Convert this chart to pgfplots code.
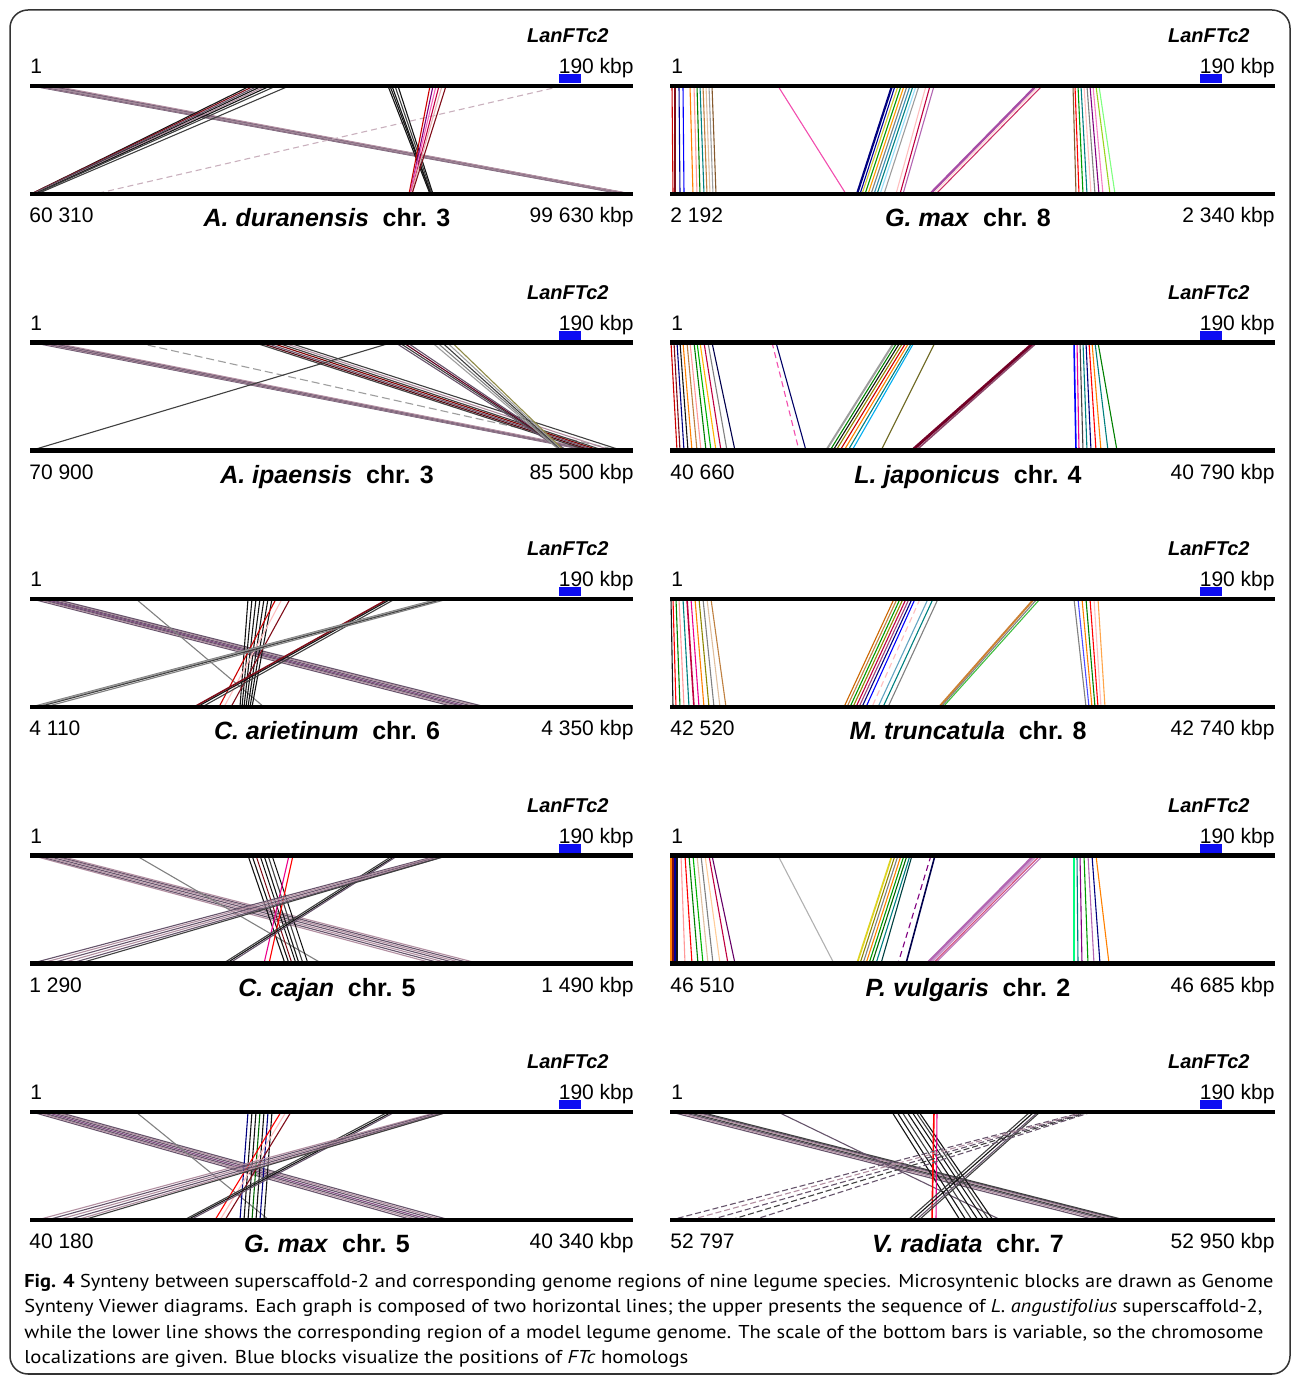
\documentclass[border=0pt]{standalone}
\usepackage{pgfplots}
\pgfplotsset{compat=1.18}
\usepackage{fontspec}
\usepackage{graphicx}
\setmainfont{Liberation Sans}
\newfontfamily\capfont{PT Sans}

\definecolor{gp}{rgb}{0.40,0.33,0.42}
\definecolor{pg}{rgb}{0.70,0.56,0.63}
\definecolor{lg}{rgb}{0.62,0.62,0.62}
\definecolor{dg}{rgb}{0.25,0.25,0.25}
\definecolor{blk}{rgb}{0.08,0.08,0.08}
\definecolor{dr}{rgb}{0.50,0.05,0.10}
\definecolor{fblue}{rgb}{0.05,0.05,0.95}

\def\yt{86}\def\yb{194}
\newcommand\setrow[1]{\pgfmathsetmacro\yt{86+256.5*#1}\pgfmathsetmacro\yb{194+256.5*#1}}
\newcommand\cn[3]{\edef\next{\noexpand\addplot[#1] coordinates {(#2,\yt) (#3,\yb)};}\next}
\newcommand\numfont{\fontsize{10.5}{12}\selectfont}
\newcommand\spfont{\fontsize{12.5}{15}\selectfont\bfseries}
\newcommand\ptext[5]{%
  \pgfmathsetmacro\yo{256.5*#2}%
  \node[anchor=base east, inner sep=0, font=\fontsize{10}{12}\selectfont\bfseries\itshape] at ({#1+609},{\yo+43}) {LanFTc2};
  \node[anchor=base west, inner sep=0, font=\numfont] at ({#1+30},{\yo+74}) {1};
  \node[anchor=base east, inner sep=0, font=\numfont] at ({#1+634},{\yo+74}) {190 kbp};
  \node[anchor=base west, inner sep=0, font=\numfont] at ({#1+29},{\yo+223}) {#3};
  \node[anchor=base east, inner sep=0, font=\numfont] at ({#1+634},{\yo+223}) {#5};
  \node[anchor=base, inner sep=0, font=\spfont] at ({#1+327},{\yo+227}) {#4};
}

\begin{document}
\begin{tikzpicture}
\begin{axis}[scale only axis, width=646.5pt, height=688.5pt,
  xmin=0, xmax=1293, ymin=0, ymax=1377, y dir=reverse, hide axis, clip=false,
  every axis plot/.append style={line width=0.55pt, line cap=butt, mark=none}]
\coordinate (TL) at (axis cs:0,0);
% ---------------- Row 0 left: A. duranensis
\setrow{0}
\cn{gp}{32}{622}\cn{pg}{35}{624}\cn{gp}{38}{626}\cn{pg}{41}{627}\cn{gp!70!white}{44}{629}\cn{pg}{47}{630}\cn{gp}{50}{631}\cn{pg}{54}{632}
\cn{blk}{250}{31}\cn{dr}{254}{31}\cn{gp}{258}{32}\cn{blk}{262}{33}\cn{pg}{266}{33}\cn{blk}{270}{34}\cn{dg}{276}{35}\cn{dg}{289}{37}
\cn{pg!70!white, dash pattern=on 3pt off 2pt}{562}{95}
\cn{blk}{388}{430}\cn{blk}{390}{431}\cn{blk}{392}{431}\cn{dg}{395}{432}\cn{blk}{398}{433}
\cn{red!80!black}{430}{409}\cn{violet}{433}{410}\cn{magenta!60!white}{436}{410}\cn{purple}{439}{411}\cn{pink!80!gray}{442}{411}\cn{dr}{446}{412}
% ---------------- Row 0 right: G. max chr 8
\cn{red!80!black}{672}{673}\cn{dr}{675}{675}\cn{blue!60!black}{679}{680}\cn{blue}{683}{684}\cn{orange}{690}{693}\cn{red!40!white}{694}{697}\cn{green!50!black}{697}{700}\cn{teal}{700}{704}\cn{brown}{703}{707}\cn{brown!50!white}{706}{710}\cn{lg}{709}{713}\cn{brown!70!black}{712}{716}
\cn{magenta!70!white}{778}{846}
\cn{blue!50!black, line width=1.1pt}{892}{857}\cn{blue!60!black}{895}{860}\cn{yellow!80!black}{898}{862}\cn{green!60!black}{901}{865}\cn{orange!80!yellow}{904}{868}\cn{gray}{907}{871}\cn{cyan!70!black}{910}{874}\cn{teal}{913}{877}\cn{cyan!40!white}{916}{880}\cn{lg}{919}{884}\cn{pink}{926}{896}\cn{purple}{930}{900}\cn{violet!60!white}{934}{903}
\cn{violet!70!white, line width=1.2pt}{1036}{930}\cn{pink!70!white}{1039}{933}\cn{purple!80!white}{1042}{936}
\cn{brown!70!black}{1073}{1076}\cn{red}{1075}{1079}\cn{green!60!black}{1078}{1083}\cn{teal}{1081}{1087}\cn{pink}{1084}{1091}\cn{gray}{1087}{1095}\cn{violet}{1090}{1099}\cn{magenta!50!white}{1093}{1103}\cn{yellow!60!green}{1096}{1110}\cn{green!50!white}{1099}{1115}
% ---------------- Row 1 left: A. ipaensis
\setrow{1}
\cn{gp}{32}{588}\cn{pg}{36}{590}\cn{gp}{40}{592}\cn{pg}{44}{594}\cn{gp}{48}{596}\cn{pg}{52}{598}
\cn{lg, dash pattern=on 4pt off 2pt}{136}{620}
\cn{dg}{254}{588}\cn{dr!70!black}{259}{592}\cn{gp}{264}{596}\cn{red!50!black}{270}{600}\cn{dg}{276}{604}\cn{pg}{282}{612}\cn{dg}{288}{622}
\cn{dg}{392}{31}
\cn{gp}{395}{563}\cn{dg}{399}{565}\cn{purple!50!black}{403}{566}\cn{gp}{407}{567}
\cn{lg}{432}{560}\cn{gray}{437}{561}\cn{dg}{442}{562}\cn{lg}{447}{563}\cn{olive!50!gray}{452}{564}
% ---------------- Row 1 right: L. japonicus
\cn{red!80!black}{671}{677}\cn{dr}{674}{680}\cn{blue!50!black}{677}{684}\cn{blk}{680}{688}\cn{orange}{683}{692}\cn{brown}{687}{697}\cn{red!40!white}{690}{701}\cn{green!50!black}{694}{706}\cn{green!70!black}{697}{711}\cn{orange!60!yellow}{700}{716}\cn{purple}{704}{721}\cn{gray}{708}{727}\cn{blue!30!black}{712}{735}
\cn{magenta!70!white, dash pattern=on 3pt off 2pt}{772}{799}\cn{blue!40!black}{776}{806}
\cn{lg, line width=1pt}{894}{826}\cn{green!50!black}{897}{830}\cn{blk}{900}{833}\cn{olive}{903}{836}\cn{red!80!black}{906}{840}\cn{orange}{909}{844}\cn{teal}{912}{848}\cn{cyan}{914}{852}
\cn{olive!70!black}{935}{881}
\cn{purple!60!black, line width=1.5pt}{1034}{912}\cn{magenta!50!black, line width=0.8pt}{1037}{916}
\cn{blue, line width=0.8pt}{1074}{1076}\cn{magenta}{1077}{1079}\cn{dg}{1080}{1083}\cn{teal}{1083}{1087}\cn{blue!50!black}{1086}{1091}\cn{red}{1089}{1096}\cn{orange}{1092}{1101}\cn{teal}{1095}{1108}\cn{green!50!black}{1098}{1117}
% ---------------- Row 2 left: C. arietinum
\setrow{2}
\cn{gp}{32}{455}\cn{pg}{36}{460}\cn{gp}{40}{465}\cn{violet!40!gray}{44}{470}\cn{gp}{48}{476}\cn{pg}{52}{481}\cn{gp}{55}{486}
\cn{gray}{136}{264}
\cn{blk}{248}{240}\cn{blk}{252}{242}\cn{blk}{256}{244}\cn{blk}{260}{246}\cn{blk}{264}{248}\cn{blk}{268}{250}\cn{blk}{272}{252}
\cn{red!80!black}{276}{219}\cn{pink}{282}{224}\cn{dr}{290}{231}
\cn{dr, line width=0.8pt}{388}{194}\cn{blk}{391}{197}\cn{dg}{395}{202}
\cn{gray}{438}{31}\cn{lg}{441}{34}\cn{dg}{444}{38}\cn{gray}{448}{45}
% ---------------- Row 2 right: M. truncatula
\cn{blk}{671}{673}\cn{red}{673}{676}\cn{green!50!black}{676}{680}\cn{red!40!white}{679}{684}\cn{teal}{683}{689}\cn{purple, line width=0.8pt}{687}{694}\cn{magenta}{691}{699}\cn{orange}{695}{704}\cn{olive}{699}{709}\cn{gray}{703}{714}\cn{brown!50!white}{707}{720}\cn{brown}{711}{726}
\cn{orange!80!black}{894}{844}\cn{brown}{897}{847}\cn{green!60!black}{900}{850}\cn{olive}{903}{853}\cn{purple}{906}{856}\cn{magenta!60!black}{909}{859}\cn{blue!50!black}{912}{862}\cn{blue}{915}{866}\cn{pink, dash pattern=on 3pt off 2pt}{920}{872}\cn{cyan!50!gray}{928}{878}\cn{teal}{933}{883}\cn{gray}{938}{888}
\cn{orange!60!gray, line width=1pt}{1034}{939}\cn{gray}{1037}{941}\cn{green!50!gray}{1040}{943}
\cn{gray}{1074}{1086}\cn{blue!70!white}{1078}{1089}\cn{orange}{1082}{1092}\cn{green!50!black}{1086}{1095}\cn{red}{1090}{1098}\cn{pink}{1094}{1101}\cn{orange!70!white}{1098}{1105}
% ---------------- Row 3 left: C. cajan
\setrow{3}
\cn{pg}{32}{434}\cn{gp}{36}{442}\cn{pg}{40}{450}\cn{gp}{45}{458}\cn{pg}{50}{465}\cn{gp}{54}{472}\cn{pg}{58}{479}
\cn{gray}{136}{322}
\cn{blk}{248}{285}\cn{blk}{252}{289}\cn{dr}{256}{292}\cn{blk}{260}{296}\cn{blk}{264}{299}\cn{dg}{268}{303}\cn{blk}{272}{308}
\cn{magenta}{289}{264}\cn{red}{293}{269}
\cn{dg}{393}{223}\cn{blk}{396}{226}\cn{gp}{398}{229}
\cn{gp}{438}{31}\cn{pg}{441}{40}\cn{gp}{444}{50}\cn{pg}{446}{60}\cn{gp}{448}{70}\cn{dg}{448}{79}
% ---------------- Row 3 right: P. vulgaris
\cn{orange}{671}{671}\cn{dr}{673}{673}\cn{blue!60!black}{675}{675}\cn{blk}{677}{677}\cn{red!40!white}{681}{685}\cn{red}{685}{692}\cn{green!50!black}{689}{698}\cn{green!70!black}{693}{703}\cn{brown!50!white}{697}{708}\cn{gray}{701}{713}\cn{orange!40!white}{705}{720}\cn{purple}{709}{728}\cn{violet!80!black}{712}{735}
\cn{lg!80!white}{778}{834}
\cn{yellow!85!black, line width=0.9pt}{892}{857}\cn{olive}{895}{860}\cn{gray}{898}{863}\cn{orange}{901}{866}\cn{green!60!black}{904}{869}\cn{green!40!black}{907}{872}\cn{teal}{910}{876}\cn{teal!50!black}{912}{881}
\cn{violet, dash pattern=on 3pt off 2pt}{931}{898}\cn{blue!30!black, line width=0.8pt}{935}{906}
\cn{violet!60!white, line width=1.3pt}{1034}{927}\cn{violet!40!white, line width=1pt}{1037}{930}\cn{purple!70!white}{1040}{933}\cn{violet!50!white}{1043}{935}
\cn{green!50!cyan}{1074}{1074}\cn{teal}{1077}{1078}\cn{violet}{1080}{1082}\cn{green!60!black}{1084}{1088}\cn{violet!60!white}{1088}{1094}\cn{blue!50!black}{1092}{1100}\cn{orange}{1096}{1109}
% ---------------- Row 4 left: G. max chr 5
\setrow{4}
\cn{gp}{32}{413}\cn{pg}{36}{419}\cn{gp}{40}{425}\cn{violet!40!gray}{45}{431}\cn{gp}{50}{438}\cn{pg}{54}{444}\cn{gp}{58}{450}
\cn{gray}{136}{269}
\cn{blue!50!black}{248}{240}\cn{blk}{252}{244}\cn{blk}{256}{248}\cn{green!40!black}{260}{252}\cn{blk}{264}{256}\cn{blue!50!black}{268}{260}\cn{blk}{272}{264}
\cn{red}{281}{215}\cn{pink}{286}{220}\cn{dr}{291}{225}
\cn{dg}{388}{184}\cn{blk}{392}{187}\cn{gp}{395}{190}
\cn{pg}{438}{37}\cn{gp}{441}{47}\cn{pg}{444}{57}\cn{gp}{446}{67}\cn{pg}{448}{76}\cn{dg}{448}{83}
% ---------------- Row 4 right: V. radiata
\cn{gp}{671}{1096}\cn{pg}{676}{1102}\cn{gp}{681}{1108}\cn{dg}{686}{1113}\cn{pg}{691}{1118}\cn{gp}{696}{1122}\cn{dg}{700}{1125}
\cn{gp}{778}{1001}
\cn{blk}{892}{960}\cn{blk}{897}{966}\cn{dg}{902}{972}\cn{blk}{907}{978}\cn{blk}{912}{984}\cn{dg}{916}{989}\cn{blk}{919}{993}
\cn{red, line width=0.8pt}{934}{932}\cn{magenta}{937}{936}
\cn{dg}{1030}{908}\cn{blk}{1034}{912}\cn{gp}{1038}{916}\cn{dg}{1040}{919}
\cn{gp, dash pattern=on 3pt off 1.5pt}{1084}{671}\cn{pg, dash pattern=on 3pt off 1.5pt}{1086}{690}\cn{gp, dash pattern=on 3pt off 1.5pt}{1088}{710}\cn{dg, dash pattern=on 3pt off 1.5pt}{1090}{730}\cn{gp, dash pattern=on 3pt off 1.5pt}{1092}{753}
% ---------------- black bars and blue FTc blocks
\addplot[black, line width=2.2pt] coordinates {(30,86) (633,86)};
\addplot[black, line width=2.2pt] coordinates {(30,194) (633,194)};
\addplot[black, line width=2.2pt] coordinates {(670,86) (1275,86)};
\addplot[black, line width=2.2pt] coordinates {(670,194) (1275,194)};
\addplot[black, line width=2.2pt] coordinates {(30,342.5) (633,342.5)};
\addplot[black, line width=2.2pt] coordinates {(30,450.5) (633,450.5)};
\addplot[black, line width=2.2pt] coordinates {(670,342.5) (1275,342.5)};
\addplot[black, line width=2.2pt] coordinates {(670,450.5) (1275,450.5)};
\addplot[black, line width=2.2pt] coordinates {(30,599) (633,599)};
\addplot[black, line width=2.2pt] coordinates {(30,707) (633,707)};
\addplot[black, line width=2.2pt] coordinates {(670,599) (1275,599)};
\addplot[black, line width=2.2pt] coordinates {(670,707) (1275,707)};
\addplot[black, line width=2.2pt] coordinates {(30,855.5) (633,855.5)};
\addplot[black, line width=2.2pt] coordinates {(30,963.5) (633,963.5)};
\addplot[black, line width=2.2pt] coordinates {(670,855.5) (1275,855.5)};
\addplot[black, line width=2.2pt] coordinates {(670,963.5) (1275,963.5)};
\addplot[black, line width=2.2pt] coordinates {(30,1112) (633,1112)};
\addplot[black, line width=2.2pt] coordinates {(30,1220) (633,1220)};
\addplot[black, line width=2.2pt] coordinates {(670,1112) (1275,1112)};
\addplot[black, line width=2.2pt] coordinates {(670,1220) (1275,1220)};
\addplot[fblue, line width=4.5pt] coordinates {(559,78.5) (581,78.5)};
\addplot[fblue, line width=4.5pt] coordinates {(1200,78.5) (1222,78.5)};
\addplot[fblue, line width=4.5pt] coordinates {(559,335) (581,335)};
\addplot[fblue, line width=4.5pt] coordinates {(1200,335) (1222,335)};
\addplot[fblue, line width=4.5pt] coordinates {(559,591.5) (581,591.5)};
\addplot[fblue, line width=4.5pt] coordinates {(1200,591.5) (1222,591.5)};
\addplot[fblue, line width=4.5pt] coordinates {(559,848) (581,848)};
\addplot[fblue, line width=4.5pt] coordinates {(1200,848) (1222,848)};
\addplot[fblue, line width=4.5pt] coordinates {(559,1104.5) (581,1104.5)};
\addplot[fblue, line width=4.5pt] coordinates {(1200,1104.5) (1222,1104.5)};
\end{axis}
\begin{scope}[shift={(TL)}, x=0.5pt, y=-0.5pt]
\path (0,0) rectangle (1293,1377);
\draw[line width=0.75pt, black!80, rounded corners=9pt] (10,10) rectangle (1290,1374);
\ptext{0}{0}{60 310}{\textit{A. duranensis}\hspace{0.55em}chr. 3}{99 630 kbp}
\ptext{641}{0}{2 192}{\textit{G. max}\hspace{0.55em}chr. 8}{2 340 kbp}
\ptext{0}{1}{70 900}{\textit{A. ipaensis}\hspace{0.55em}chr. 3}{85 500 kbp}
\ptext{641}{1}{40 660}{\textit{L. japonicus}\hspace{0.55em}chr. 4}{40 790 kbp}
\ptext{0}{2}{4 110}{\textit{C. arietinum}\hspace{0.55em}chr. 6}{4 350 kbp}
\ptext{641}{2}{42 520}{\textit{M. truncatula}\hspace{0.55em}chr. 8}{42 740 kbp}
\ptext{0}{3}{1 290}{\textit{C. cajan}\hspace{0.55em}chr. 5}{1 490 kbp}
\ptext{641}{3}{46 510}{\textit{P. vulgaris}\hspace{0.55em}chr. 2}{46 685 kbp}
\ptext{0}{4}{40 180}{\textit{G. max}\hspace{0.55em}chr. 5}{40 340 kbp}
\ptext{641}{4}{52 797}{\textit{V. radiata}\hspace{0.55em}chr. 7}{52 950 kbp}
\node[anchor=base west, inner sep=0, font=\capfont\fontsize{9.3}{11}\selectfont] at (24,1287) {\resizebox{624.5pt}{\height}{\textbf{Fig. 4} Synteny between superscaffold-2 and corresponding genome regions of nine legume species. Microsyntenic blocks are drawn as Genome}};
\node[anchor=base west, inner sep=0, font=\capfont\fontsize{9.3}{11}\selectfont] at (24,1313) {\resizebox{619pt}{\height}{Synteny Viewer diagrams. Each graph is composed of two horizontal lines; the upper presents the sequence of \textit{L. angustifolius} superscaffold-2,}};
\node[anchor=base west, inner sep=0, font=\capfont\fontsize{9.3}{11}\selectfont] at (24,1338) {\resizebox{619.5pt}{\height}{while the lower line shows the corresponding region of a model legume genome. The scale of the bottom bars is variable, so the chromosome}};
\node[anchor=base west, inner sep=0, font=\capfont\fontsize{9.3}{11}\selectfont] at (24,1364) {\resizebox{332pt}{\height}{localizations are given. Blue blocks visualize the positions of \textit{FTc} homologs}};
\end{scope}
\end{tikzpicture}
\end{document}
